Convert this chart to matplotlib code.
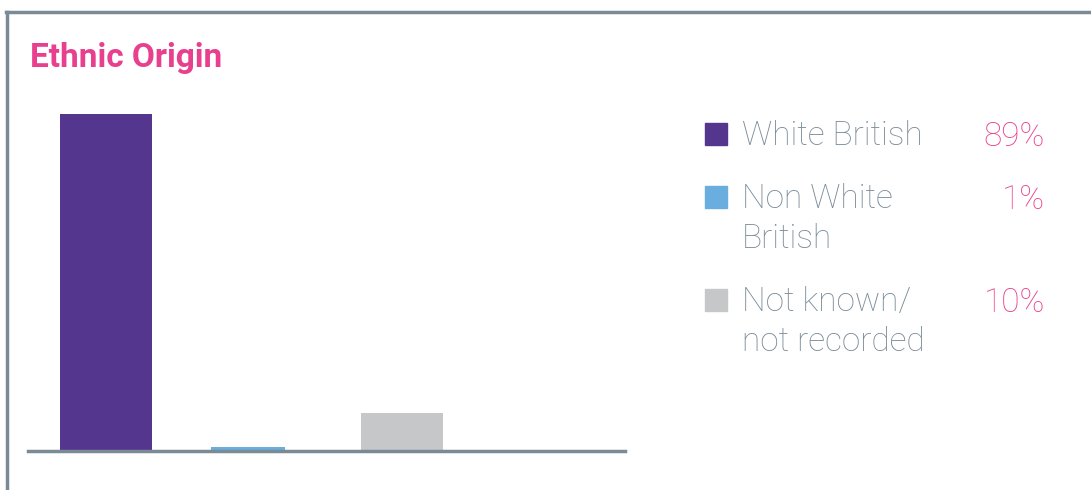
import matplotlib.pyplot as plt
from matplotlib.lines import Line2D
from matplotlib.patches import Rectangle

categories = ["White British", "Non White\nBritish", "Not known/\nnot recorded"]
values = [89, 1, 10]
labels = ["89%", "1%", "10%"]
colors = ["#55368f", "#6aaee0", "#c6c7c9"]
widths = [0.62, 0.5, 0.55]

pink = "#e8408e"
slate = "#7a8b96"
text_grey = "#7a8c98"

plt.rcParams["font.family"] = ["Roboto", "DejaVu Sans"]

fig = plt.figure(figsize=(10.91, 4.9), dpi=100)

# frame lines at top and left
fig.add_artist(Line2D([6 / 1091, 1], [1 - 12 / 490, 1 - 12 / 490], color=slate, lw=2.5))
fig.add_artist(Line2D([7 / 1091, 7 / 1091], [0, 1 - 12 / 490], color=slate, lw=2.5))

fig.text(30 / 1091, 1 - 58 / 490, "Ethnic Origin", color=pink, fontsize=24,
         fontweight="bold", va="center", ha="left")

# bar axes
ax = fig.add_axes([28 / 1091, 1 - 451 / 490, 597 / 1091, 337 / 490])
x = [0, 0.96, 2.0]
ax.bar(x, values, width=widths, color=colors)
ax.set_xlim(-0.527, 3.507)
ax.set_ylim(0, max(values))
for s in ["top", "right", "left"]:
    ax.spines[s].set_visible(False)
ax.spines["bottom"].set_color(slate)
ax.spines["bottom"].set_linewidth(2.5)
ax.set_xticks([])
ax.set_yticks([])
ax.patch.set_alpha(0)

# legend
rows_y = [134, 197, 300]
for cat, lab, col, yy in zip(categories, labels, colors, rows_y):
    fy = 1 - yy / 490
    fig.add_artist(Rectangle((705 / 1091, fy - 11 / 490), 22 / 1091, 22 / 490,
                             color=col, transform=fig.transFigure))
    fig.text(742 / 1091, 1 - (yy - 14) / 490, cat, color=text_grey, fontsize=24,
             fontweight="light", va="top", ha="left", linespacing=1.33)
    fig.text(1045 / 1091, 1 - (yy + 3) / 490, lab, color=pink, fontsize=24,
             fontweight="light", va="center", ha="right")

fig.savefig("out.png", dpi=100)
